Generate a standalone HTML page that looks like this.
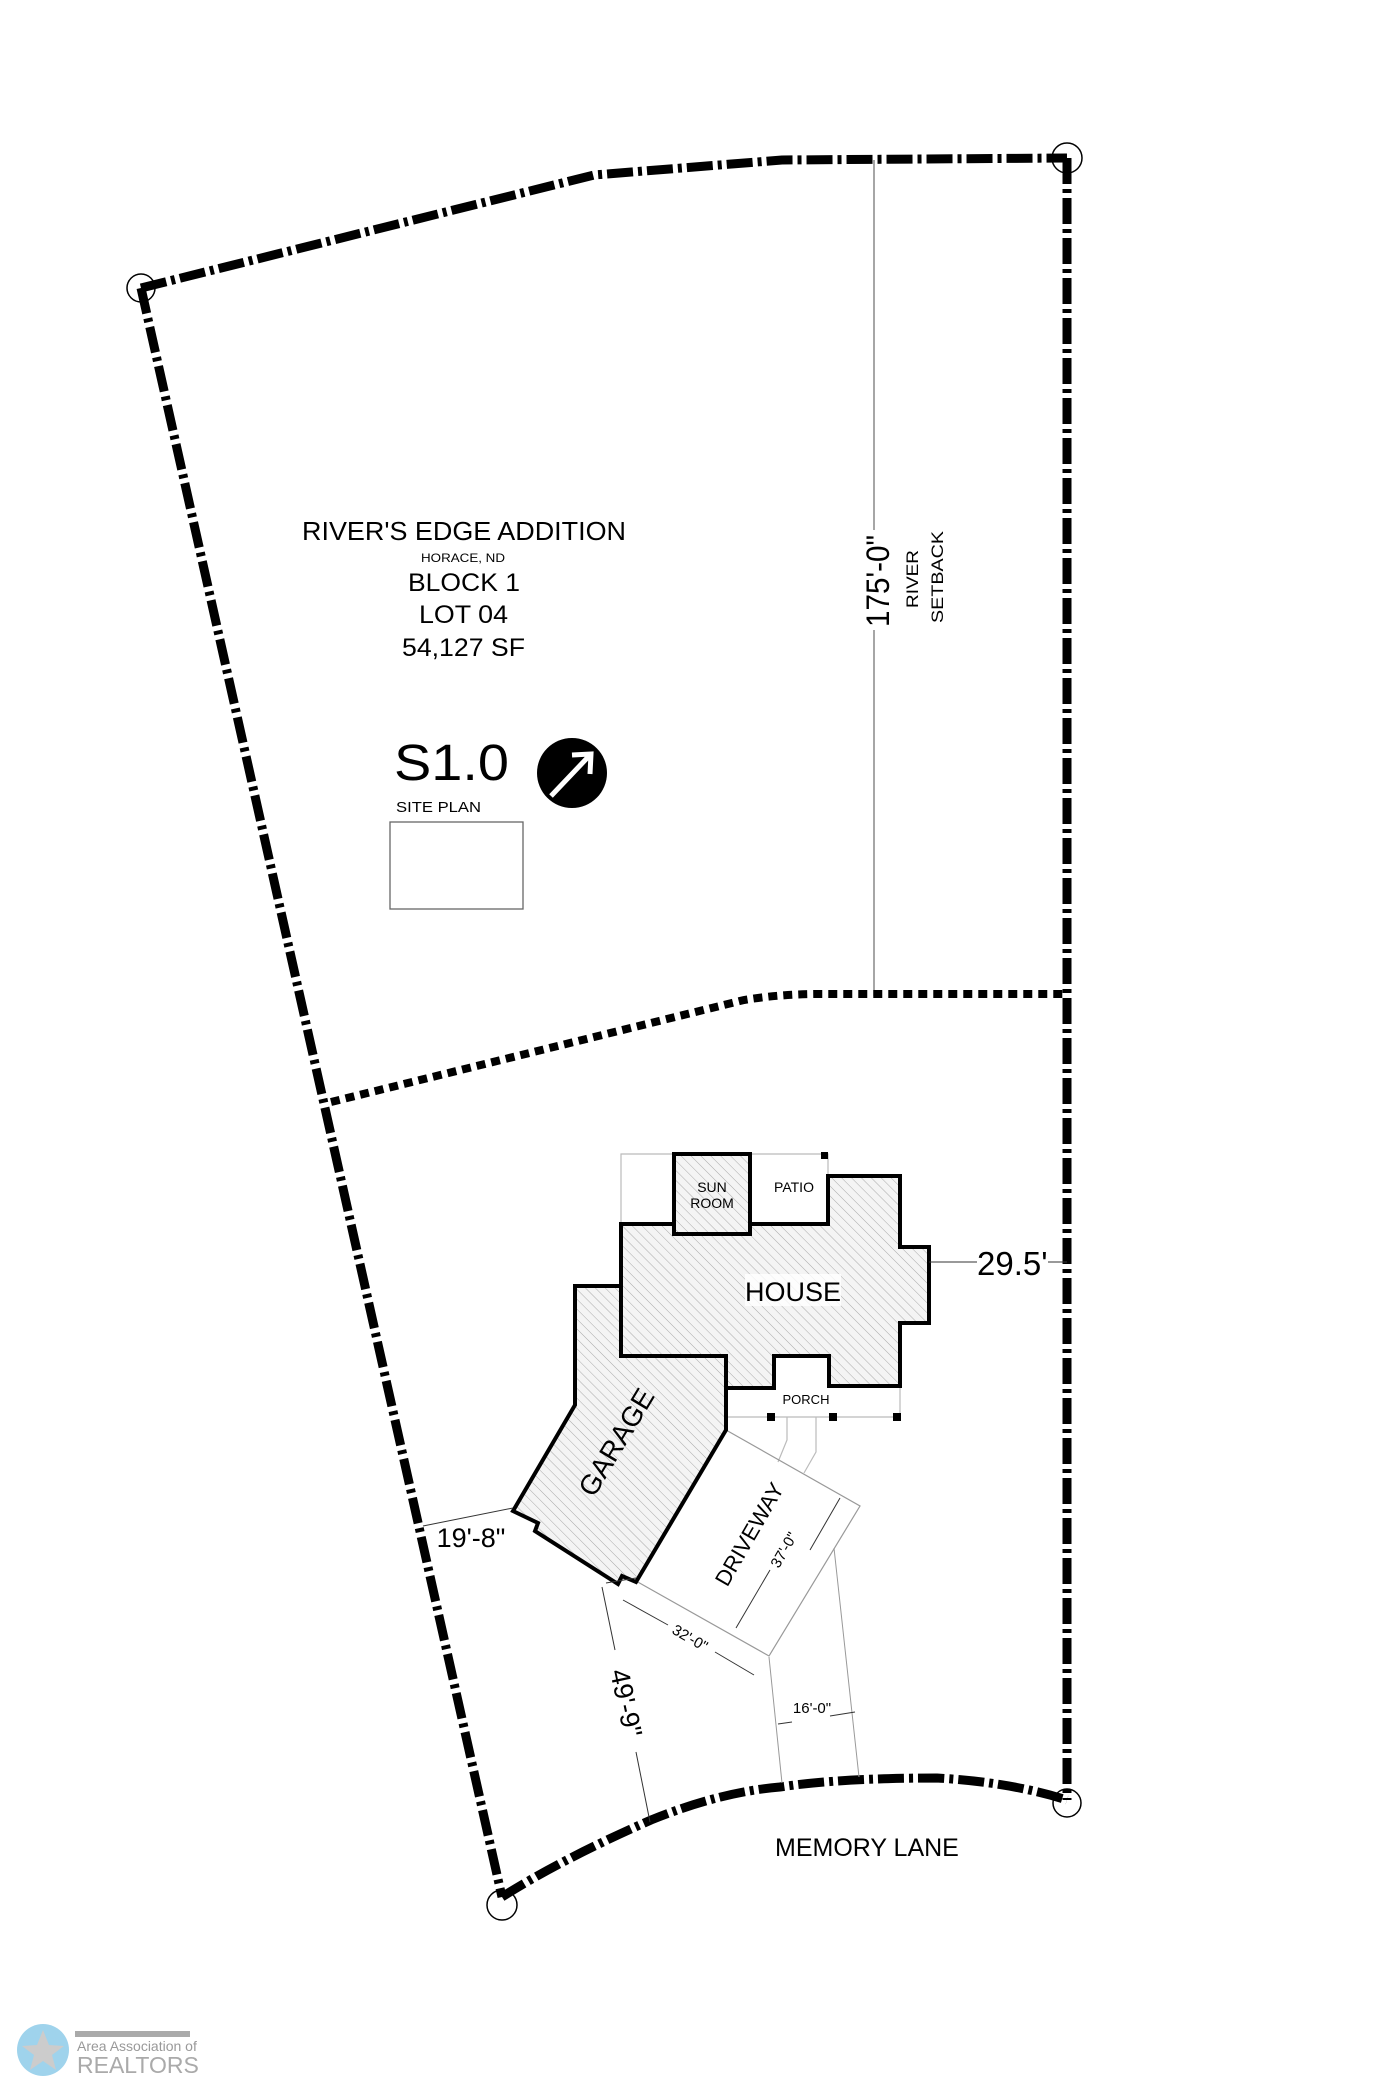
<!DOCTYPE html>
<html><head><meta charset="utf-8"><style>
html,body{margin:0;padding:0;background:#fff;}
svg{display:block;}
text{font-family:"Liberation Sans",sans-serif;fill:#000;}
</style></head><body>
<svg width="1391" height="2080" viewBox="0 0 1391 2080" xmlns="http://www.w3.org/2000/svg">
<defs>
<pattern id="h" width="7" height="7" patternUnits="userSpaceOnUse" patternTransform="rotate(-45)">
<rect width="7" height="7" fill="#f4f4f4"/>
<line x1="0" y1="0" x2="0" y2="7" stroke="#aaa" stroke-width="1"/>
</pattern>
</defs>

<!-- setback line -->
<line x1="874" y1="160" x2="874" y2="996" stroke="#777" stroke-width="1.3"/>

<!-- boundary -->
<g fill="none" stroke="#000" stroke-width="9" stroke-dasharray="26 5 4 5">
<path d="M141 288 L594 175 L782 160 L1067 158"/>
<path d="M1067 158 L1067 1800"/>
<path d="M141 288 L502 1897"/>
<path d="M502 1897 Q560 1860 651 1820 Q720 1792 780 1787 Q840 1778 937 1778 Q1010 1782 1067 1800"/>
</g>
<!-- dotted line -->
<path d="M331 1102 L744 1000 Q780 994 820 994 L1067 994" fill="none" stroke="#000" stroke-width="8" stroke-dasharray="9 6"/>
<g fill="none" stroke="#000" stroke-width="1.5">
<circle cx="1067" cy="158" r="15"/>
<circle cx="141" cy="288" r="14"/>
<circle cx="1067" cy="1803" r="14"/>
<circle cx="502" cy="1905" r="15"/>
</g>

<!-- text block -->
<text x="302" y="540" font-size="26" textLength="324" lengthAdjust="spacingAndGlyphs">RIVER'S EDGE ADDITION</text>
<text x="421" y="562" font-size="12" textLength="84" lengthAdjust="spacingAndGlyphs">HORACE, ND</text>
<text x="408" y="591" font-size="25" textLength="112" lengthAdjust="spacingAndGlyphs">BLOCK 1</text>
<text x="419" y="623" font-size="25" textLength="89" lengthAdjust="spacingAndGlyphs">LOT 04</text>
<text x="402" y="656" font-size="25" textLength="123" lengthAdjust="spacingAndGlyphs">54,127 SF</text>
<text x="394" y="780" font-size="51" textLength="115" lengthAdjust="spacingAndGlyphs">S1.0</text>
<text x="396" y="812" font-size="15" textLength="85" lengthAdjust="spacingAndGlyphs">SITE PLAN</text>
<rect x="390" y="822" width="133" height="87" fill="none" stroke="#666" stroke-width="1.3"/>
<circle cx="572" cy="773" r="35" fill="#000"/>
<path d="M551 796 L590 755 M572 755 L591 754 L590 774" fill="none" stroke="#fff" stroke-width="5"/>

<text transform="translate(889,627) rotate(-90)" font-size="32" textLength="92" lengthAdjust="spacingAndGlyphs">175'-0"</text>
<rect x="860" y="530" width="30" height="100" fill="#fff"/>
<text transform="translate(889,627) rotate(-90)" font-size="32" textLength="92" lengthAdjust="spacingAndGlyphs">175'-0"</text>
<text transform="translate(918,608) rotate(-90)" font-size="17" textLength="58" lengthAdjust="spacingAndGlyphs">RIVER</text>
<text transform="translate(943,623) rotate(-90)" font-size="17" textLength="92" lengthAdjust="spacingAndGlyphs">SETBACK</text>

<!-- patio / porch outlines -->
<g fill="none" stroke="#bbb" stroke-width="1.2">
<path d="M621 1224 L621 1154 L828 1154 L828 1176"/>
<path d="M726 1417 L900 1417 L900 1386"/>
<path d="M787 1417 L787 1440 L778 1462 M816 1417 L816 1452 L804 1473"/>
</g>
<rect x="821" y="1152" width="7" height="7" fill="#000"/>
<rect x="767" y="1413" width="8" height="8" fill="#000"/>
<rect x="829" y="1413" width="8" height="8" fill="#000"/>
<rect x="893" y="1413" width="8" height="8" fill="#000"/>

<!-- driveway -->
<path d="M726 1430 L860 1506 L769 1656 L636 1581" fill="none" stroke="#999" stroke-width="1.2"/>
<g fill="none" stroke="#999" stroke-width="1">
<path d="M769 1657 L782 1783"/>
<path d="M834 1548 L859 1777"/>
</g>

<!-- garage -->
<path d="M575 1286 L621 1286 L621 1356 L726 1356 L726 1430 L636 1582 L622 1576 L618 1584 L535 1531 L538 1523 L513 1511 L575 1405 Z" fill="url(#h)" stroke="#000" stroke-width="4" stroke-linejoin="miter"/>
<!-- house -->
<path d="M621 1224 L674 1224 L674 1234 L750 1234 L750 1224 L828 1224 L828 1176 L900 1176 L900 1247 L929 1247 L929 1323 L900 1323 L900 1386 L829 1386 L829 1356 L774 1356 L774 1388 L726 1388 L726 1356 L621 1356 Z" fill="url(#h)" stroke="#000" stroke-width="4"/>
<rect x="674" y="1154" width="76" height="80" fill="url(#h)" stroke="#000" stroke-width="4"/>

<g font-size="14" text-anchor="middle">
<text x="712" y="1192">SUN</text>
<text x="712" y="1208">ROOM</text>
<text x="794" y="1192">PATIO</text>
<text x="806" y="1404" font-size="13">PORCH</text>
</g>
<rect x="745" y="1274" width="96" height="32" fill="#fff" opacity="0.8"/>
<text x="793" y="1301" font-size="27" text-anchor="middle">HOUSE</text>
<text transform="translate(616,1442) rotate(-59)" font-size="28" text-anchor="middle" dy="10">GARAGE</text>
<text transform="translate(749,1534) rotate(-60)" font-size="22" text-anchor="middle" dy="8">DRIVEWAY</text>

<!-- dims -->
<g fill="none" stroke="#333" stroke-width="1">
<path d="M929 1262 L977 1262 M1048 1262 L1067 1262"/>
<path d="M423 1526 L513 1508"/>
<path d="M602 1587 L615 1650 M636 1752 L650 1822"/>
<path d="M606 1583 L636 1578"/>
<path d="M840 1498 L810 1550 M770 1570 L736 1628"/>
<path d="M623 1600 L668 1625 M715 1652 L754 1675"/>
<path d="M778 1724 L792 1722 M830 1716 L855 1712"/>
</g>
<text x="977" y="1275" font-size="33">29.5'</text>
<text x="471" y="1547" font-size="27" text-anchor="middle">19'-8"</text>
<text transform="translate(626,1703) rotate(78)" font-size="27" text-anchor="middle" dy="9">49'-9"</text>
<text transform="translate(784,1550) rotate(-60)" font-size="15" text-anchor="middle" dy="5">37'-0"</text>
<text transform="translate(690,1638) rotate(30)" font-size="15" text-anchor="middle" dy="5">32'-0"</text>
<text x="812" y="1713" font-size="15" text-anchor="middle">16'-0"</text>
<text x="775" y="1856" font-size="25">MEMORY LANE</text>

<!-- logo -->
<circle cx="43" cy="2050" r="26" fill="#9fd3ec"/>
<path d="M43 2030 L49 2045 L64 2046 L52 2055 L56 2070 L43 2061 L30 2070 L34 2055 L22 2046 L37 2045 Z" fill="#ccc"/>
<rect x="75" y="2031" width="115" height="6" fill="#aaa"/>
<text x="77" y="2051" font-size="14" fill="#999" style="fill:#999">Area Association of</text>
<text x="77" y="2073" font-size="23" fill="#aaa" style="fill:#aaa">REALTORS</text>
</svg>
</body></html>
